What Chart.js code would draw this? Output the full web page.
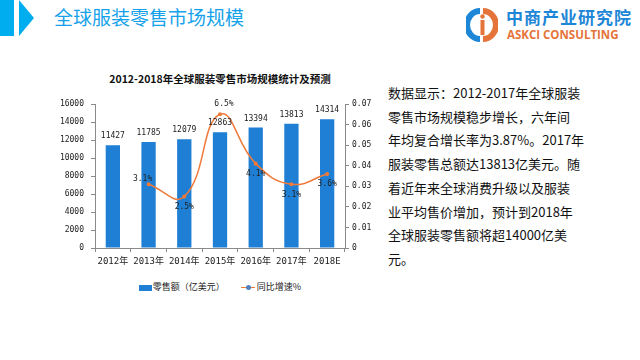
<!DOCTYPE html>
<html>
<head>
<meta charset="utf-8">
<script src="https://cdn.jsdelivr.net/npm/chart.js@4/dist/chart.umd.min.js"></script>
<style>
html,body{margin:0;padding:0;background:#fff;width:640px;height:360px;overflow:hidden;font-family:"Noto Sans CJK SC","Noto Sans",sans-serif;}
#hdrbar{position:absolute;left:0;top:0;width:14px;height:36px;background:#00aeef;}
#hdrtri{position:absolute;left:19px;top:0;width:0;height:0;border-top:18px solid transparent;border-bottom:18px solid transparent;border-left:15px solid #00aeef;}
#hdrtitle{position:absolute;left:54px;top:4px;font-size:19px;line-height:26px;color:#16a2ea;letter-spacing:0px;white-space:nowrap;}
#logo{position:absolute;left:466px;top:5px;}
#logo1{position:absolute;left:506px;top:6px;font-size:17px;line-height:22px;font-weight:bold;color:#1d86d6;white-space:nowrap;letter-spacing:1px;}
#logo2{position:absolute;left:507px;top:27px;font-size:11.5px;line-height:15px;font-weight:bold;color:#e5743a;white-space:nowrap;font-family:"Open Sans","Noto Sans",sans-serif;}
#ctitle{position:absolute;left:40px;width:360px;top:71px;text-align:center;font-size:10.5px;line-height:16px;font-weight:bold;color:#111;white-space:nowrap;}
#wrap{position:absolute;left:40px;top:90px;width:340px;height:185px;}
#legend{position:absolute;left:40px;width:360px;top:280px;height:14px;text-align:center;font-size:9px;line-height:14px;color:#222;white-space:nowrap;font-family:"Noto Sans CJK SC",sans-serif;}
#legend span.box{display:inline-block;width:13px;height:6px;background:#1e7fd4;vertical-align:middle;margin-right:1px;}
#legend span.ln{display:inline-block;position:relative;width:14px;height:6px;vertical-align:middle;margin-left:16px;margin-right:2px;}
#legend span.ln:before{content:"";position:absolute;left:0;right:0;top:2px;height:1.5px;background:#f07a3a;}
#legend span.ln:after{content:"";position:absolute;left:5px;top:0;width:5px;height:5px;border-radius:50%;background:#4f81bd;}
#para{position:absolute;left:388px;top:81px;font-size:13px;line-height:23.7px;color:#111;white-space:nowrap;font-family:"Noto Sans CJK SC",sans-serif;}
</style>
</head>
<body>
<div id="hdrbar"></div><div id="hdrtri"></div>
<div id="hdrtitle">全球服装零售市场规模</div>
<svg id="logo" width="32" height="40" viewBox="0 0 32 40">
  <path d="M14 3 A16 17 0 0 0 14 37 L14 31 A10 11 0 0 1 14 9 Z" fill="#1d86d6"/>
  <path d="M17 3 A16 17 0 0 1 17 37 L17 31 A10 11 0 0 0 17 9 Z" fill="#e5743a"/>
  <rect x="14.5" y="15" width="4" height="15" fill="#e5743a"/>
  <circle cx="16.5" cy="11.5" r="2.2" fill="#e5743a"/>
</svg>
<div id="logo1">中商产业研究院</div>
<div id="logo2">ASKCI CONSULTING</div>
<div id="ctitle">2012-2018年全球服装零售市场规模统计及预测</div>
<div id="wrap"><canvas id="c" width="340" height="185"></canvas></div>
<div id="legend"><span class="box"></span>零售额（亿美元）<span class="ln"></span>同比增速%</div>
<div id="para">数据显示：2012-2017年全球服装<br>零售市场规模稳步增长，六年间<br>年均复合增长率为3.87%。2017年<br>服装零售总额达13813亿美元。随<br>着近年来全球消费升级以及服装<br>业平均售价增加，预计到2018年<br>全球服装零售额将超14000亿美<br>元。</div>
<script>
const categories = ['2012年','2013年','2014年','2015年','2016年','2017年','2018E'];
const retailSales = [11427, 11785, 12079, 12863, 13394, 13813, 14314];
const growthRate = [null, 0.031, 0.025, 0.065, 0.041, 0.031, 0.036];
const growthLabels = ['', '3.1%', '2.5%', '6.5%', '4.1%', '3.1%', '3.6%'];
const leftTicks = [0, 2000, 4000, 6000, 8000, 10000, 12000, 14000, 16000];
const rightTicks = [0, 0.01, 0.02, 0.03, 0.04, 0.05, 0.06, 0.07];

const MONO = '"DejaVu Sans Mono","Liberation Mono",monospace';
const labelOffsets = [null, [-6, -5], [0, 10], [4, -10], [0, 10], [0, 11], [0, 10]];

const labelPlugin = {
  id: 'vlabels',
  afterDatasetsDraw(chart) {
    const ctx = chart.ctx;
    ctx.save();
    ctx.font = '8px ' + MONO;
    ctx.fillStyle = '#222';
    ctx.textAlign = 'center';
    ctx.textBaseline = 'middle';
    const bm = chart.getDatasetMeta(0);
    bm.data.forEach((el, i) => {
      ctx.fillText(String(retailSales[i]), el.x, el.y - 9);
    });
    const lm = chart.getDatasetMeta(1);
    lm.data.forEach((el, i) => {
      if (growthRate[i] == null) return;
      const o = labelOffsets[i];
      ctx.fillText(growthLabels[i], el.x + o[0], el.y + o[1]);
    });
    ctx.restore();
  }
};

new Chart(document.getElementById('c'), {
  data: {
    labels: categories,
    datasets: [
      {
        type: 'bar', label: '零售额（亿美元）', data: retailSales, yAxisID: 'y',
        backgroundColor: '#1e7fd4', barPercentage: 0.4, categoryPercentage: 1.0, order: 2
      },
      {
        type: 'line', label: '同比增速%', data: growthRate, yAxisID: 'y1',
        borderColor: '#f07a3a', backgroundColor: '#f07a3a', borderWidth: 1.5,
        pointRadius: 1.3, pointHoverRadius: 1.3, tension: 0.45, spanGaps: false,
        cubicInterpolationMode: 'default', order: 1
      }
    ]
  },
  options: {
    responsive: false, animation: false, devicePixelRatio: 1,
    layout: { padding: { top: 14, left: 0, right: 0, bottom: 0 } },
    plugins: { legend: { display: false }, title: { display: false }, tooltip: { enabled: false } },
    scales: {
      x: {
        offset: true,
        grid: { display: true, offset: true, drawOnChartArea: false, tickLength: 4, color: '#8a8a8a' },
        border: { display: true, color: '#8a8a8a', width: 1 },
        ticks: { font: { size: 9, family: MONO + ',"Noto Sans CJK SC"' }, color: '#222', padding: 4, maxRotation: 0 },
        afterFit(s) { s.height = 27; }
      },
      y: {
        position: 'left', min: 0, max: 16000,
        afterBuildTicks(s) { s.ticks = leftTicks.map(v => ({ value: v })); },
        grid: { display: true, drawOnChartArea: false, tickLength: 4, color: '#8a8a8a' },
        border: { display: true, color: '#8a8a8a', width: 1 },
        ticks: { font: { size: 8, family: MONO }, color: '#222', padding: 7, callback: v => String(v) },
        afterFit(s) { s.width = 55; }
      },
      y1: {
        position: 'right', min: 0, max: 0.07,
        afterBuildTicks(s) { s.ticks = rightTicks.map(v => ({ value: v })); },
        grid: { display: true, drawOnChartArea: false, tickLength: 4, color: '#8a8a8a' },
        border: { display: true, color: '#8a8a8a', width: 1 },
        ticks: { font: { size: 8, family: MONO }, color: '#222', padding: 3,
          callback: v => v === 0 ? '0' : Number(v).toFixed(2) },
        afterFit(s) { s.width = 35; }
      }
    }
  },
  plugins: [labelPlugin]
});
</script>
</body>
</html>
